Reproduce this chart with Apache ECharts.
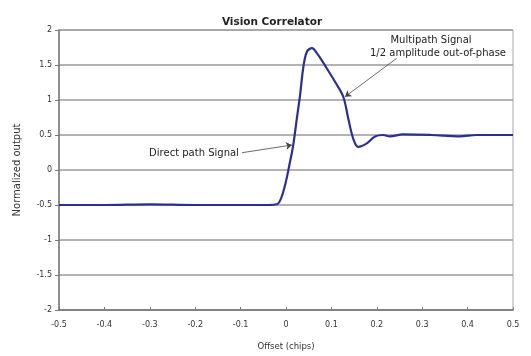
<!DOCTYPE html>
<html><head><meta charset="utf-8">
<script src="https://cdn.jsdelivr.net/npm/echarts@6/dist/echarts.min.js"></script>
<style>html,body{margin:0;padding:0;background:#fff}#c{width:531px;height:356px}</style>
</head><body><div id="c"></div>
<script>
var offsets = [-0.5, -0.4, -0.3, -0.2, -0.1, -0.04, -0.02, -0.006, 0.009, 0.016, 0.024, 0.031, 0.038, 0.046, 0.057, 0.071, 0.09, 0.108, 0.126, 0.137, 0.148, 0.159, 0.178, 0.196, 0.214, 0.229, 0.258, 0.32, 0.383, 0.42, 0.5];
var outputs = [-0.5, -0.5, -0.49, -0.5, -0.5, -0.5, -0.49, -0.31, 0.12, 0.36, 0.74, 1.07, 1.46, 1.69, 1.74, 1.64, 1.45, 1.26, 1.05, 0.74, 0.45, 0.33, 0.38, 0.48, 0.50, 0.48, 0.51, 0.5, 0.48, 0.5, 0.5];
var multipathArrow = [[0.244, 1.596], [0.13, 1.047]];
var directArrow = [[-0.097, 0.247], [0.013, 0.357]];
var titleText = 'Vision Correlator';
var xName = 'Offset (chips)';
var yName = 'Normalized output';
var noteMultipath1 = 'Multipath Signal';
var noteMultipath2 = '1/2 amplitude out-of-phase';
var noteDirect = 'Direct path Signal';

var data = offsets.map(function (x, i) { return [x, outputs[i]]; });
var font = '"DejaVu Sans", Verdana, sans-serif';
var chart = echarts.init(document.getElementById('c'));
chart.setOption({
  animation: false,
  title: { text: titleText, left: 267, textAlign: 'center', top: 12,
    textStyle: { fontSize: 10.5, fontWeight: 'bold', color: '#222', fontFamily: font } },
  grid: { left: 59, right: 18, top: 30, bottom: 46, show: true, borderColor: '#aaa', borderWidth: 1 },
  xAxis: { type: 'value', min: -0.5, max: 0.5, interval: 0.1,
    name: xName, nameLocation: 'middle', nameGap: 32,
    nameTextStyle: { fontSize: 8.5, color: '#333', fontFamily: font },
    axisLine: { onZero: false, lineStyle: { color: '#777', width: 1.5 } },
    axisTick: { inside: true, length: 3, lineStyle: { color: '#777' } },
    axisLabel: { fontSize: 8, color: '#333', fontFamily: font, margin: 11,
      formatter: function (v) { return String(Math.round(v * 10) / 10); } },
    splitLine: { show: false } },
  yAxis: { type: 'value', min: -2, max: 2, interval: 0.5,
    name: yName, nameLocation: 'middle', nameGap: 37,
    nameTextStyle: { fontSize: 10, color: '#333', fontFamily: font },
    axisLine: { show: true, onZero: false, lineStyle: { color: '#777', width: 1.5 } },
    axisTick: { show: true, length: 4, lineStyle: { color: '#777' } },
    axisLabel: { fontSize: 8, color: '#333', fontFamily: font, margin: 7 },
    splitLine: { show: true, lineStyle: { color: '#9a9a9a', width: 1.5 } } },
  series: [{
    type: 'line', data: data, smooth: 0.35, showSymbol: false,
    lineStyle: { color: '#2b2f94', width: 2.2 },
    markLine: {
      silent: true, symbol: ['none', 'arrow'], symbolSize: 6,
      lineStyle: { color: '#444', width: 0.8, type: 'solid' },
      label: { show: false },
      data: [
        [{ coord: multipathArrow[0] }, { coord: multipathArrow[1] }],
        [{ coord: directArrow[0] }, { coord: directArrow[1] }]
      ]
    }
  }],
  graphic: [
    { type: 'text', x: 431, y: 40, style: { text: noteMultipath1, fill: '#222', font: '10px ' + font, textAlign: 'center', textVerticalAlign: 'middle' } },
    { type: 'text', x: 438, y: 53, style: { text: noteMultipath2, fill: '#222', font: '10px ' + font, textAlign: 'center', textVerticalAlign: 'middle' } },
    { type: 'text', x: 194, y: 153, style: { text: noteDirect, fill: '#222', font: '10px ' + font, textAlign: 'center', textVerticalAlign: 'middle' } }
  ]
});
</script></body></html>
